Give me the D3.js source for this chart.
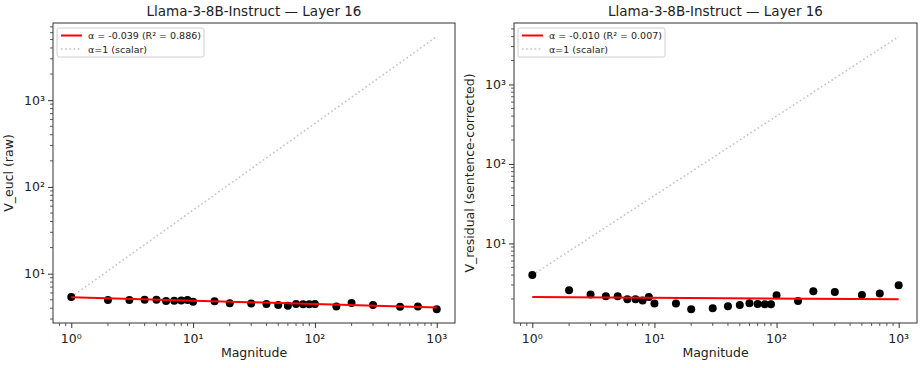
<!DOCTYPE html>
<head>
  <meta charset="utf-8">
  <script src="https://d3js.org/d3.v7.min.js"></script>
  <style>
    body { margin:0; background:#fff; }
    text { font-family: "DejaVu Sans", sans-serif; fill:#222; }
  </style>
</head>
<body>
<script>
  // magnitudes (shared x values)
  var magnitudes = [1, 2, 3, 4, 5, 6, 7, 8, 9, 10, 15, 20, 30, 40, 50, 60, 70, 80, 90, 100, 150, 200, 300, 500, 700, 1000];

  // left panel: raw euclidean volume
  var vEucl = [5.4, 4.97, 4.97, 5.01, 5.01, 4.84, 4.88, 4.92, 4.97, 4.75, 4.8, 4.55, 4.52, 4.48, 4.35, 4.28, 4.48, 4.44, 4.44, 4.48, 4.2, 4.59, 4.35, 4.17, 4.2, 3.88];
  var fitEucl = {alpha: -0.039, r2: 0.886, c: 5.35};

  // right panel: sentence-corrected residual
  var vResid = [4.0, 2.57, 2.27, 2.16, 2.16, 1.98, 1.99, 1.92, 2.12, 1.75, 1.76, 1.48, 1.53, 1.62, 1.68, 1.77, 1.73, 1.72, 1.72, 2.23, 1.89, 2.5, 2.45, 2.25, 2.34, 2.98];
  var fitResid = {alpha: -0.010, r2: 0.007, c: 2.12};

  var titles = ["Llama-3-8B-Instruct \u2014 Layer 16", "Llama-3-8B-Instruct \u2014 Layer 16"];
  var yLabels = ["V_eucl (raw)", "V_residual (sentence-corrected)"];
  var xLabel = "Magnitude";

  var panels = [
    {vals: vEucl, fit: fitEucl, box: {x0: 53, x1: 455, y0: 23, y1: 323}, title: titles[0], ylab: yLabels[0], ylabX: 13},
    {vals: vResid, fit: fitResid, box: {x0: 514, x1: 917, y0: 23, y1: 323}, title: titles[1], ylab: yLabels[1], ylabX: 474}
  ];

  var svg = d3.select("body").append("svg")
    .attr("width", 924)
    .attr("height", 368);

  var supers = {"0": "\u2070", "1": "\u00b9", "2": "\u00b2", "3": "\u00b3"};

  function logPad(lo, hi) {
    var a = Math.log10(lo), b = Math.log10(hi), m = (b - a) * 0.05;
    return [Math.pow(10, a - m), Math.pow(10, b + m)];
  }

  panels.forEach(function(p) {
    var b = p.box;
    var s0 = p.vals[0];
    var yMax = s0 * magnitudes[magnitudes.length - 1];
    var yMin = d3.min(p.vals);

    var x = d3.scaleLog().domain(logPad(1, 1000)).range([b.x0, b.x1]);
    var y = d3.scaleLog().domain(logPad(yMin, yMax)).range([b.y1, b.y0]);

    var g = svg.append("g");

    // scalar reference line (alpha = 1)
    var scalarLine = d3.line()
      .x(function(d) { return x(d); })
      .y(function(d) { return y(s0 * d); });
    g.append("path")
      .attr("d", scalarLine([1, 1000]))
      .attr("fill", "none")
      .attr("stroke", "#c4c4c4")
      .attr("stroke-width", 1.6)
      .attr("stroke-dasharray", "1.6,2.6");

    // points
    g.selectAll(".pt").data(magnitudes).enter()
      .append("circle")
      .attr("class", "pt")
      .attr("cx", function(d) { return x(d); })
      .attr("cy", function(d, i) { return y(p.vals[i]); })
      .attr("r", 4)
      .attr("fill", "#000");

    // power-law fit
    var fitLine = d3.line()
      .x(function(d) { return x(d); })
      .y(function(d) { return y(p.fit.c * Math.pow(d, p.fit.alpha)); });
    g.append("path")
      .attr("d", fitLine([1, 1000]))
      .attr("fill", "none")
      .attr("stroke", "#ff0000")
      .attr("stroke-width", 2);

    // axes
    var xAxis = d3.axisBottom(x)
      .tickValues([1, 10, 100, 1000])
      .tickSize(5).tickPadding(4)
      .tickFormat(function(d) { return ""; });
    var xMinor = [];
    [1, 10, 100].forEach(function(dec) {
      for (var k = 2; k <= 9; k++) xMinor.push(dec * k);
    });
    xMinor.push(0.9, 0.8, 2000);
    xMinor = xMinor.filter(function(v) { return x(v) >= b.x0 && x(v) <= b.x1; });

    var gx = g.append("g").attr("transform", "translate(0," + b.y1 + ")").call(xAxis);
    gx.select(".domain").remove();
    gx.selectAll("line").attr("stroke", "#333");
    gx.selectAll(".minor").data(xMinor).enter().append("line")
      .attr("x1", function(d) { return x(d); })
      .attr("x2", function(d) { return x(d); })
      .attr("y1", 0).attr("y2", 3)
      .attr("stroke", "#333").attr("stroke-width", 0.8);
    [1, 10, 100, 1000].forEach(function(v, i) {
      gx.append("text")
        .attr("x", x(v)).attr("y", 19.5)
        .attr("text-anchor", "middle")
        .attr("font-size", 12.5)
        .text("10" + supers[String(i)]);
    });

    var yTicks = [10, 100, 1000].filter(function(v) { return y(v) >= b.y0 && y(v) <= b.y1; });
    var yAxis = d3.axisLeft(y).tickValues(yTicks).tickSize(5).tickFormat(function() { return ""; });
    var gy = g.append("g").attr("transform", "translate(" + b.x0 + ",0)").call(yAxis);
    gy.select(".domain").remove();
    gy.selectAll("line").attr("stroke", "#333");
    var yMinor = [];
    [1, 10, 100, 1000].forEach(function(dec) {
      for (var k = 2; k <= 9; k++) yMinor.push(dec * k);
    });
    yMinor = yMinor.filter(function(v) { return y(v) >= b.y0 && y(v) <= b.y1; });
    gy.selectAll(".minor").data(yMinor).enter().append("line")
      .attr("x1", -3).attr("x2", 0)
      .attr("y1", function(d) { return y(d); })
      .attr("y2", function(d) { return y(d); })
      .attr("stroke", "#333").attr("stroke-width", 0.8);
    yTicks.forEach(function(v) {
      gy.append("text")
        .attr("x", -8).attr("y", y(v) + 4.5)
        .attr("text-anchor", "end")
        .attr("font-size", 12.5)
        .text("10" + supers[String(Math.round(Math.log10(v)))]);
    });

    // frame
    g.append("rect")
      .attr("x", b.x0).attr("y", b.y0)
      .attr("width", b.x1 - b.x0).attr("height", b.y1 - b.y0)
      .attr("fill", "none").attr("stroke", "#333").attr("stroke-width", 1);

    // title and labels
    g.append("text")
      .attr("x", (b.x0 + b.x1) / 2).attr("y", 16)
      .attr("text-anchor", "middle").attr("font-size", 13.5)
      .text(p.title);
    g.append("text")
      .attr("x", (b.x0 + b.x1) / 2).attr("y", 357)
      .attr("text-anchor", "middle").attr("font-size", 12.5)
      .text(xLabel);
    g.append("text")
      .attr("transform", "translate(" + p.ylabX + "," + ((b.y0 + b.y1) / 2) + ") rotate(-90)")
      .attr("text-anchor", "middle").attr("font-size", 12.5)
      .text(p.ylab);

    // legend
    var lg = g.append("g").attr("transform", "translate(" + (b.x0 + 4) + "," + (b.y0 + 5) + ")");
    lg.append("rect")
      .attr("width", 147).attr("height", 29).attr("rx", 2)
      .attr("fill", "#fff").attr("fill-opacity", 0.8)
      .attr("stroke", "#d0d0d0");
    lg.append("line").attr("x1", 4).attr("x2", 25).attr("y1", 7.5).attr("y2", 7.5)
      .attr("stroke", "#ff0000").attr("stroke-width", 2);
    lg.append("line").attr("x1", 4).attr("x2", 25).attr("y1", 21).attr("y2", 21)
      .attr("stroke", "#c4c4c4").attr("stroke-width", 1.6).attr("stroke-dasharray", "1.6,2.6");
    lg.append("text").attr("x", 31).attr("y", 11).attr("font-size", 9.5)
      .text("\u03b1 = " + p.fit.alpha.toFixed(3) + " (R\u00b2 = " + p.fit.r2.toFixed(3) + ")");
    lg.append("text").attr("x", 31).attr("y", 24.5).attr("font-size", 9.5)
      .text("\u03b1=1 (scalar)");
  });
</script>
</body>
